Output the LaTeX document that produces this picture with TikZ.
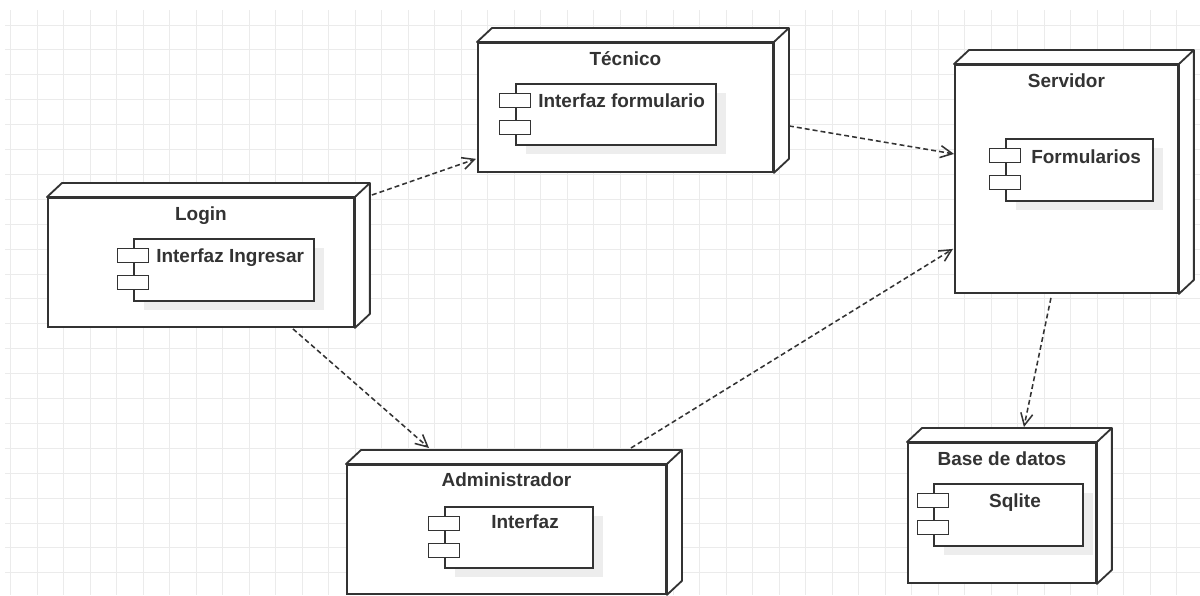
\documentclass[tikz,border=0pt]{standalone}
\usepackage{fontspec}
\setmainfont{Liberation Sans}
\usepackage{tikz}
\usetikzlibrary{shadows,arrows.meta}
\usepackage{xcolor}
\definecolor{edgegray}{HTML}{333333}
\definecolor{gridgray}{HTML}{EBEBEB}
\tikzstyle{gridline}=[draw=gridgray, line width=0.6pt]
\tikzstyle{device}=[rectangle, draw=edgegray, line width=1.3pt, fill=white, anchor=north west, inner sep=0pt]
\tikzstyle{devicetitle}=[anchor=base, inner sep=0pt, text=edgegray, font=\fontsize{13.5}{16}\selectfont\bfseries]
\tikzstyle{component}=[rectangle, draw=edgegray, line width=1.1pt, fill=white, anchor=north west, inner sep=0pt,
drop shadow={shadow xshift=0.25cm, shadow yshift=-0.24cm, fill=black!7, opacity=1}]
\tikzstyle{compicon}=[rectangle, draw=edgegray, line width=1.1pt, fill=white, minimum width=0.775cm, minimum height=0.35cm, inner sep=0pt]
\tikzstyle{complabel}=[anchor=base west, inner sep=0pt, text=edgegray, font=\fontsize{13.5}{16}\selectfont\bfseries]
\tikzstyle{dependency}=[draw=edgegray, line width=1.1pt, dash pattern=on 3.5pt off 2.2pt, -{Straight Barb[length=3mm,width=3mm]}]
% 3d faces of a device box
\newcommand{\devicedepth}[1]{%
  \filldraw[fill=white, draw=edgegray, line width=1.3pt, line join=round] (#1.north west) -- ++(15,-14) -- ([shift={(15,-14)}]#1.north east) -- ([shift={(15,-14)}]#1.south east) -- (#1.south east) -- (#1.north east) -- cycle;
  \draw[edgegray, line width=1.3pt] (#1.north east) -- ++(15,-14);
}
% the two little boxes of a component
\newcommand{\compicons}[1]{%
  \node[compicon] (#1-a) at ([shift={(0,17.5)}]#1.north west) {};
  \node[compicon] (#1-b) at ([shift={(0,44.5)}]#1.north west) {};
}

\begin{document}
\begin{tikzpicture}[x=0.025cm, y=-0.025cm]
            \useasboundingbox (0,0) rectangle (1200,595);
            \fill[white] (0,0) rectangle (1200,595);
            % grid
            \foreach \gx in {0,...,44}
                \draw[gridline] ({10.7+26.5*\gx},10) -- ({10.7+26.5*\gx},595);
            \foreach \gy in {0,...,22}
                \draw[gridline] (5,{25+24.9*\gy}) -- (1200,{25+24.9*\gy});

            % Login
            \node[device, minimum width=7.65cm, minimum height=3.225cm] (login) at (47,197) {};
            \devicedepth{login}
            \node[devicetitle] (login-title) at ([shift={(0,23)}]login.north) {Login};
            \node[component, minimum width=4.5cm, minimum height=1.55cm] (login-ui) at (133,238) {};
            \compicons{login-ui}
            \node[complabel] (login-ui-text) at ([shift={(23,24)}]login-ui.north west) {Interfaz Ingresar};

            % Tecnico
            \node[device, minimum width=7.375cm, minimum height=3.225cm] (tecnico) at (477,42) {};
            \devicedepth{tecnico}
            \node[devicetitle] (tecnico-title) at ([shift={(0,23.5)}]tecnico.north) {Técnico};
            \node[component, minimum width=5cm, minimum height=1.525cm] (tecnico-ui) at (515,83) {};
            \compicons{tecnico-ui}
            \node[complabel] (tecnico-ui-text) at ([shift={(23,24)}]tecnico-ui.north west) {Interfaz formulario};

            % Servidor
            \node[device, minimum width=5.575cm, minimum height=5.7cm] (servidor) at (954,64) {};
            \devicedepth{servidor}
            \node[devicetitle] (servidor-title) at ([shift={(0,23)}]servidor.north) {Servidor};
            \node[component, minimum width=3.675cm, minimum height=1.55cm] (servidor-forms) at (1005,138) {};
            \compicons{servidor-forms}
            \node[complabel] (servidor-forms-text) at ([shift={(26,25)}]servidor-forms.north west) {Formularios};

            % Administrador
            \node[device, minimum width=7.975cm, minimum height=3.225cm] (admin) at (346,464) {};
            \devicedepth{admin}
            \node[devicetitle] (admin-title) at ([shift={(0,22)}]admin.north) {Administrador};
            \node[component, minimum width=3.7cm, minimum height=1.525cm] (admin-ui) at (444,506) {};
            \compicons{admin-ui}
            \node[complabel, anchor=base] (admin-ui-text) at ([shift={(81,22)}]admin-ui.north west) {Interfaz};

            % Base de datos
            \node[device, minimum width=4.7cm, minimum height=3.5cm] (bd) at (907,442) {};
            \devicedepth{bd}
            \node[devicetitle] (bd-title) at ([shift={(0,23)}]bd.north) {Base de datos};
            \node[component, minimum width=3.725cm, minimum height=1.55cm] (bd-sqlite) at (933,483) {};
            \compicons{bd-sqlite}
            \node[complabel, anchor=base] (bd-sqlite-text) at ([shift={(82,24)}]bd-sqlite.north west) {Sqlite};

            % dependencies
            \draw[dependency] ([shift={(17,-2)}]login.north east) -- ([shift={(-1,-14)}]tecnico.south west);
            \draw[dependency] ([shift={(15,18.5)}]tecnico.east) -- ([shift={(0,-25)}]servidor.west);
            \draw[dependency] ([shift={(92,1)}]login.south) -- ([shift={(83,-16)}]admin.north west);
            \draw[dependency] ([shift={(124.5,-16)}]admin.north) -- ([shift={(-1,-45)}]servidor.south west);
            \draw[dependency] ([shift={(-15.5,4)}]servidor.south) -- ([shift={(22,-15)}]bd.north);
        \end{tikzpicture}
\end{document}
